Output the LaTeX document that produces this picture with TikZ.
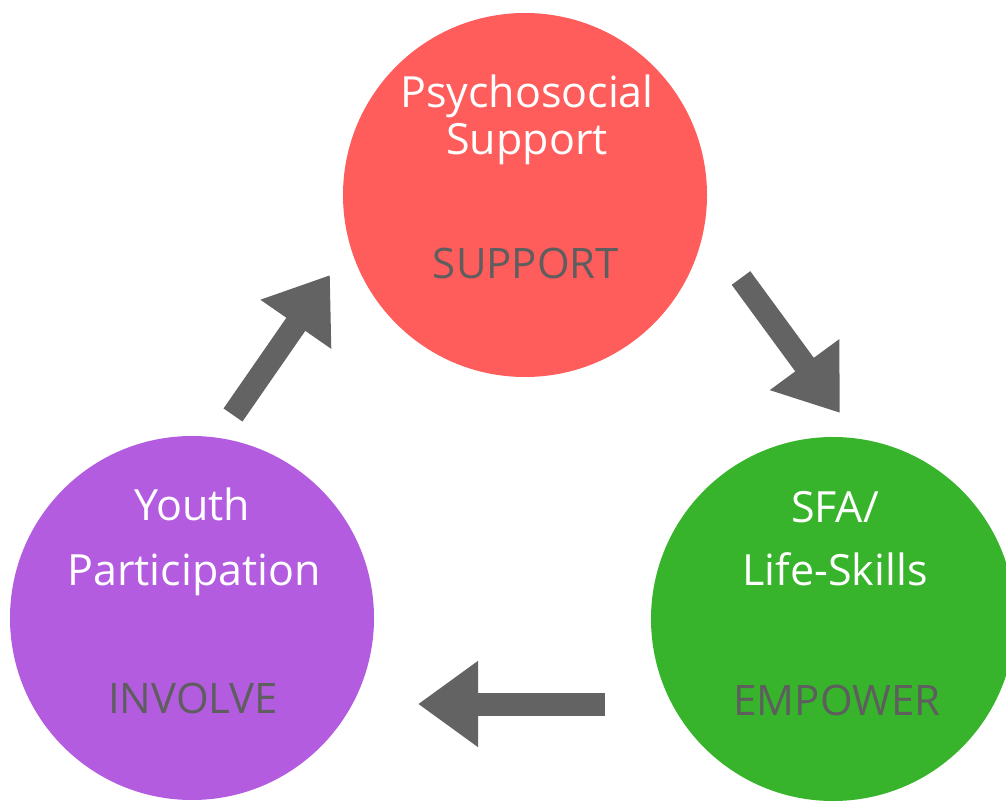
\documentclass[tikz,border=0pt]{standalone}
\usepackage{fontspec}
\setmainfont{Open Sans}
\usetikzlibrary{arrows.meta}
\definecolor{cred}{HTML}{FF5C5C}
\definecolor{cpurple}{HTML}{B45CE0}
\definecolor{cgreen}{HTML}{37B42B}
\definecolor{cgray}{HTML}{636363}
\definecolor{ctext}{HTML}{5E5E5E}
\begin{document}
\begin{tikzpicture}[x=1pt,y=-1pt,
  disc/.style={circle,inner sep=0pt,minimum size=364pt},
  toptext/.style={anchor=base,text=white,font=\fontsize{43}{43}\selectfont,inner sep=0pt},
  keytext/.style={anchor=base,text=ctext,font=\fontsize{42}{42}\selectfont,inner sep=0pt},
  bigarrow/.style={draw=cgray,line width=23pt,-{Triangle[length=60pt,width=82pt]}}]
\useasboundingbox (0,0) rectangle (1006,805);
\node[disc,fill=cred] (red) at (525,195) {};
\node[disc,fill=cpurple] (purple) at (192,618) {};
\node[disc,fill=cgreen] (green) at (833,619) {};
\node[toptext] (r1) at (527,108) {Psychosocial};
\node[toptext] (r2) at (527,155) {Support};
\node[keytext] (r3) at (526,278) {SUPPORT};
\node[toptext] (p1) at (192,520) {Youth};
\node[toptext] (p2) at (194,585) {Participation};
\node[keytext] (p3) at (193,713) {INVOLVE};
\node[toptext] (g1) at (835,522) {SFA/};
\node[toptext] (g2) at (835,585) {Life-Skills};
\node[keytext] (g3) at (837,715) {EMPOWER};
\coordinate (a1s) at (233,415);
\coordinate (a1e) at (330,275);
\coordinate (a2s) at (741,278);
\coordinate (a2e) at (840,413);
\coordinate (a3s) at (605,704);
\coordinate (a3e) at (418,704);
\draw[bigarrow] (a1s) -- (a1e);
\draw[bigarrow] (a2s) -- (a2e);
\draw[bigarrow] (a3s) -- (a3e);
\end{tikzpicture}
\end{document}
